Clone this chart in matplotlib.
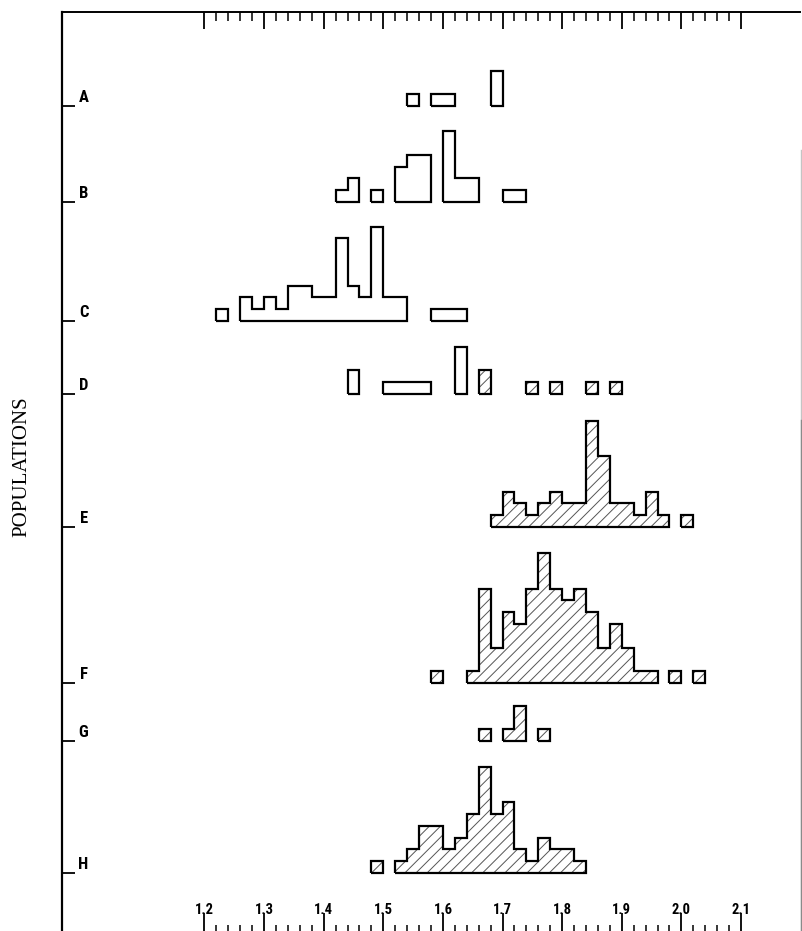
import numpy as np
import matplotlib
matplotlib.use("Agg")
import matplotlib.pyplot as plt
from matplotlib import font_manager as fm
from matplotlib.lines import Line2D
from matplotlib.transforms import ScaledTranslation

# ---- data: counts per 0.02-wide class, starting at the given class value ----
bin_width = 0.02

pop_names = ["A", "B", "C", "D", "E", "F", "G", "H"]

a_start = 1.54
a_counts = [1, 0, 1, 1, 0, 0, 0, 3]

b_start = 1.42
b_counts = [1, 2, 0, 1, 0, 3, 4, 4, 0, 6, 2, 2, 0, 0, 1, 1]

c_start = 1.22
c_counts = [1, 0, 2, 1, 2, 1, 3, 3, 2, 2, 7, 3, 2, 8, 2, 2, 0, 0, 1, 1, 1]

d_open_start = 1.44
d_open_counts = [2, 0, 0, 1, 1, 1, 1, 0, 0, 4]

d_hatched_start = 1.66
d_hatched_counts = [2, 0, 0, 0, 1, 0, 1, 0, 0, 1, 0, 1]

e_start = 1.68
e_counts = [1, 3, 2, 1, 2, 3, 2, 2, 9, 6, 2, 2, 1, 3, 1, 0, 1]

f_start = 1.58
f_counts = [1, 0, 0, 1, 8, 3, 6, 5, 8, 11, 8, 7, 8, 6, 3, 5, 3, 1, 1, 0, 1, 0, 1]

g_start = 1.66
g_counts = [1, 0, 1, 3, 0, 1]

h_start = 1.48
h_counts = [1, 0, 1, 2, 4, 4, 2, 3, 5, 9, 5, 6, 2, 1, 3, 2, 2, 1]

tick_values = [1.2, 1.3, 1.4, 1.5, 1.6, 1.7, 1.8, 1.9, 2.0, 2.1]
tick_labels = ["1.2", "1.3", "1.4", "1.5", "1.6", "1.7", "1.8", "1.9", "2.0", "2.1"]

# ---- layout (figure pixels) ----
W, H = 802, 931
DPI = 100
ax_left_px, ax_right_px, ax_top_px = 62, 800, 12
x_ref_px, x_ref_val, px_per_unit = 204.5, 1.2, 596.1   # 1.2 sits at x=204.5 px
px_per_count = 11.8
row_base_px = [106, 202, 321, 394, 527, 683, 741, 873]  # baseline of each row


def pick_family(*names):
    for n in names:
        try:
            fm.findfont(fm.FontProperties(family=n), fallback_to_default=False)
            return n
        except ValueError:
            continue
    return "DejaVu Sans"


narrow = pick_family("Liberation Sans Narrow", "DejaVu Sans Condensed",
                     "Roboto Condensed", "Roboto")
serif = pick_family("Liberation Serif", "DejaVu Serif")

plt.rcParams["hatch.linewidth"] = 0.7

fig = plt.figure(figsize=(W / DPI, H / DPI), dpi=DPI)
ax = fig.add_axes([ax_left_px / W, 0,
                   (ax_right_px - ax_left_px) / W, (H - ax_top_px) / H])

xmin = x_ref_val - (x_ref_px - ax_left_px) / px_per_unit
xmax = x_ref_val + (ax_right_px - x_ref_px) / px_per_unit
ax.set_xlim(xmin, xmax)
ax.set_ylim(0, (H - ax_top_px) / px_per_count)

bases = [(H - b) / px_per_count for b in row_base_px]


def draw_hist(start, counts, base, hatched):
    counts = np.asarray(counts, dtype=float)
    edges = start + bin_width * np.arange(len(counts) + 1)
    tops = np.where(counts > 0, base + counts, np.nan)
    floor = np.full(len(counts), base)
    if hatched:
        ax.stairs(tops, edges, baseline=floor, fill=True, facecolor="white",
                  edgecolor="#555555", linewidth=0, hatch="///", zorder=2)
    ax.stairs(tops, edges, baseline=floor, fill=False, edgecolor="black",
              linewidth=1.6, zorder=3)


draw_hist(a_start, a_counts, bases[0], False)
draw_hist(b_start, b_counts, bases[1], False)
draw_hist(c_start, c_counts, bases[2], False)
draw_hist(d_open_start, d_open_counts, bases[3], False)
draw_hist(d_hatched_start, d_hatched_counts, bases[3], True)
draw_hist(e_start, e_counts, bases[4], True)
draw_hist(f_start, f_counts, bases[5], True)
draw_hist(g_start, g_counts, bases[6], True)
draw_hist(h_start, h_counts, bases[7], True)

# ---- frame ----
for side in ("top", "right", "bottom"):
    ax.spines[side].set_visible(False)
ax.spines["left"].set_linewidth(1.6)

# bottom scale: ticks pointing up, labels inside the frame
minor_ticks = np.round(np.arange(1.2, 2.1001, 0.02), 2)
ax.set_xticks(tick_values, tick_labels)
ax.set_xticks(minor_ticks, minor=True)
ax.tick_params(axis="x", which="major", direction="in", length=13, width=1.3,
               pad=-20, labelsize=10.5)
ax.tick_params(axis="x", which="minor", direction="in", length=4.5, width=1.1)
for lab in ax.get_xticklabels():
    lab.set_fontfamily(narrow)
    lab.set_fontweight("bold")

# top scale: ticks pointing down
top = ax.secondary_xaxis("top")
top.set_xticks(tick_values)
top.set_xticks(minor_ticks, minor=True)
top.tick_params(axis="x", which="major", direction="in", length=12, width=1.3,
                labeltop=False)
top.tick_params(axis="x", which="minor", direction="in", length=6.5, width=1.1)
top.spines["top"].set_linewidth(1.4)

# population ticks on the left, letters set just above each tick
ax.set_yticks(bases, pop_names)
ax.tick_params(axis="y", direction="in", length=9, width=1.3, pad=-19,
               labelsize=12)
offset = ScaledTranslation(0, 10 / DPI, fig.dpi_scale_trans)
for lab in ax.get_yticklabels():
    lab.set_fontfamily(narrow)
    lab.set_fontweight("bold")
    lab.set_transform(lab.get_transform() + offset)

# faint right border
fig.add_artist(Line2D([800.5 / W, 800.5 / W], [0, 1 - 150 / H],
                      color="#c4c4c4", linewidth=1.0))
fig.add_artist(Line2D([800.5 / W, 800.5 / W], [0, 1 - 420 / H],
                      color="#8a8a8a", linewidth=1.0))

fig.text(22 / W, 1 - 467 / H, "POPULATIONS", rotation=90, ha="center",
         va="center", fontsize=15, family=serif)

fig.savefig("out.png", dpi=DPI, facecolor="white")
